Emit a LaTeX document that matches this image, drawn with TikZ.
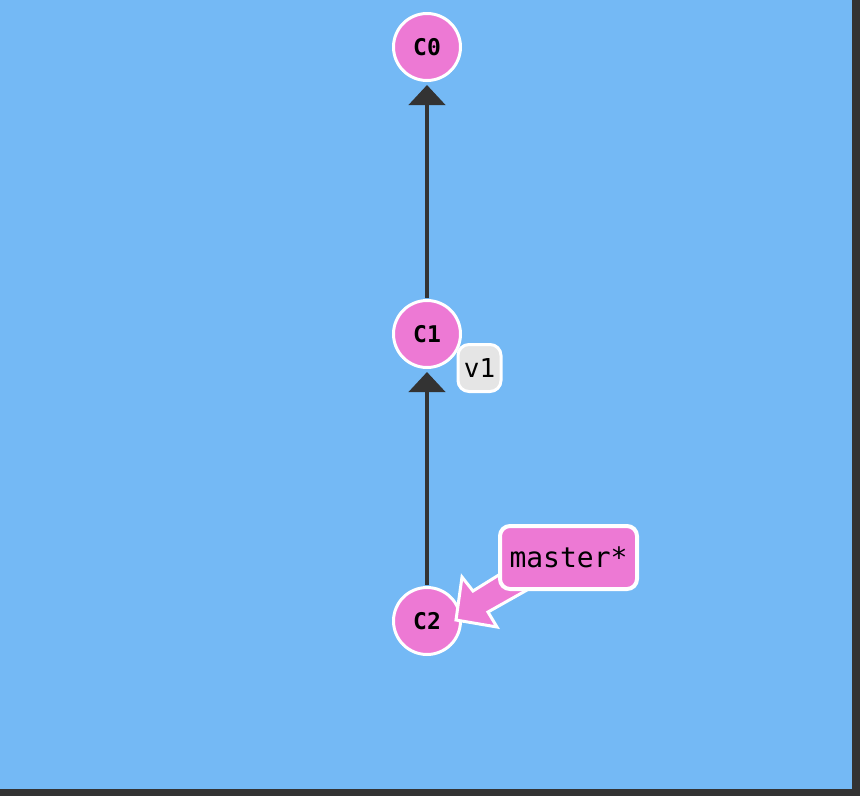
\documentclass[tikz,border=0pt]{standalone}
\usepackage{fontspec}
\setmonofont{DejaVu Sans Mono}
\usetikzlibrary{arrows.meta}
\definecolor{bg}{RGB}{116,185,245}
\definecolor{pinkc}{RGB}{237,121,212}
\definecolor{grayl}{RGB}{229,229,229}
\definecolor{darkc}{RGB}{51,51,51}
\begin{document}
\begin{tikzpicture}[x=1pt,y=-1pt,
  commit/.style={circle,draw=white,line width=3pt,fill=pinkc,minimum size=67pt,inner sep=0pt,
    font=\ttfamily\bfseries\fontsize{23}{23}\selectfont},
  parent/.style={draw=darkc,line width=4.5pt,-{Triangle[width=36pt,length=20pt]},shorten >=3pt,shorten <=1.5pt},
  tagbox/.style={draw=white,line width=3pt,rounded corners=11pt,fill=grayl,minimum width=43pt,minimum height=47pt,inner sep=0pt,
    font=\ttfamily\fontsize{26}{26}\selectfont},
  branchbox/.style={draw=white,line width=4pt,rounded corners=10pt,fill=pinkc,minimum width=137pt,minimum height=63pt,inner sep=0pt,
    font=\ttfamily\fontsize{28}{28}\selectfont},
]
\useasboundingbox (0,0) rectangle (860,796);
\fill[darkc] (0,0) rectangle (860,796);
\fill[bg] (0,0) rectangle (852,789);
\node[commit] (c0) at (427,47) {C0};
\node[commit] (c1) at (427,334) {C1};
\node[commit] (c2) at (427,621) {C2};
\draw[parent] (c1) -- (c0);
\draw[parent] (c2) -- (c1);
\node[tagbox] (v1) at (479.5,368) {v1};
\draw[white,line width=3pt,fill=pinkc,line join=miter]
  (456,620) -- (462,577) -- (473,591) -- (510,568) -- (527,590) -- (488,612) -- (497,627) -- cycle;
\node[branchbox] (master) at (568.5,557.5) {master*};
\end{tikzpicture}
\end{document}
